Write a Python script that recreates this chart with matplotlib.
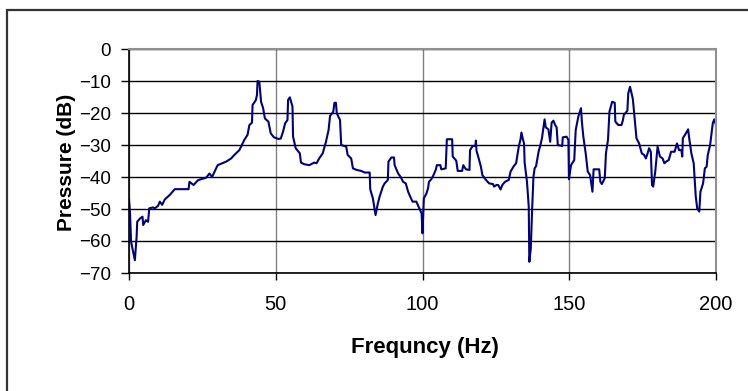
import numpy as np
import matplotlib
matplotlib.use('Agg')
import matplotlib.pyplot as plt
from matplotlib.patches import Rectangle

plt.rcParams['font.family'] = ['Liberation Sans', 'DejaVu Sans']

# frequency response (Hz, dB)
freq = [0, 0.35, 0.7, 2.0, 2.6, 2.8, 3.7, 4.6, 4.85, 5.75, 6.5, 6.9, 8.2, 8.8, 9.9,
        10.5, 11.3, 12.2, 13.9, 15.6, 20.3, 20.6, 22.0, 23.5, 26.3, 27.4, 28.3, 30.2,
        33.1, 34.8, 35.9, 37.6, 39.3, 40.4, 41.0, 41.9, 42.1, 43.2, 43.6, 43.8, 44.4,
        45.0, 45.7, 46.3, 47.5, 48.3, 49.4, 50.9,
        51.7, 52.5, 53.2, 54.0, 54.2, 54.8, 55.7, 55.9, 56.8, 58.2, 58.6, 59.7, 61.4,
        63.1, 63.9, 64.8, 66.0, 67.1, 68.0, 68.5, 69.6, 70.0, 70.5, 70.8, 71.9, 72.3,
        74.0, 74.5, 75.7, 76.3, 77.6, 79.1, 80.3, 82.0, 82.2, 83.1, 84.0, 84.8, 85.4,
        86.5, 87.1, 88.2, 88.4, 89.4, 90.3, 90.5, 91.7, 92.5, 93.4, 94.3, 95.1, 95.7,
        96.6, 97.9, 98.9, 99.7, 100.0,
        100.45, 101.35, 101.9, 102.2, 103.0, 103.6, 104.5, 104.9, 106.1, 106.4, 107.9,
        108.3, 110.1, 110.3, 111.5, 112.0, 113.5, 113.9, 114.8, 116.0, 116.2, 117.1,
        118.0, 118.2, 118.4, 119.3, 119.9, 120.4, 121.6, 122.7, 124.0, 124.4, 125.2,
        125.8, 126.6, 127.2, 128.1, 129.4, 130.0, 131.1, 131.9, 132.8, 133.4, 133.7,
        134.2, 134.6, 134.8, 135.6, 136.2, 136.4, 136.9, 137.3, 137.8, 138.2, 138.7,
        139.6, 140.1, 140.7, 141.6, 142.0, 142.9, 143.5, 144.0, 144.6, 145.2, 145.7,
        146.1, 147.6, 147.8, 149.1, 149.7, 149.9,
        150.6, 151.7, 152.2, 153.1, 154.0, 154.3, 154.8, 155.6, 156.3, 157.1, 157.9,
        158.3, 160.2, 160.6, 161.1, 162.1, 162.5, 163.2, 163.7, 164.6, 165.5, 165.7,
        166.7, 167.8, 168.3, 168.6, 169.8, 170.1, 170.7, 171.5, 171.7, 172.4, 172.9,
        173.8, 174.7, 175.5, 176.1, 176.7, 177.2, 177.8, 178.2, 178.6, 179.3, 180.1,
        180.9, 181.8, 182.4, 183.0, 183.9, 184.7, 185.9, 186.7, 187.4, 188.2, 188.5,
        188.7, 189.7, 190.5, 190.8, 191.6, 192.4, 193.1, 193.6, 194.3, 194.7, 195.6,
        196.2, 196.8, 197.2, 198.0, 198.9, 199.4, 200.0, 200.0]

pressure = [-47, -51.3, -60.2, -66, -58.6, -54, -53, -52.4, -55, -53.5, -54, -49.8, -49.5,
            -49.8, -49, -47.7, -48.7, -47, -45.6, -43.8, -43.8, -41.5, -42.5, -41, -40.2,
            -38.9, -40, -36.3, -35.2, -34.2, -33.1, -31.6, -28.4, -26.8, -23.8, -23,
            -17.5, -16.0, -14.4, -10, -10.2, -16.5, -18.5, -21.7, -22.7, -26.4, -27.6,
            -28.1,
            -28, -25.8, -23.2, -22.2, -15.9, -15.1, -18, -27.4, -31, -32.6, -35.5, -36,
            -36.3, -35.5, -35.7, -34.2, -32.6, -29, -25.3, -20.9, -19.6, -16.8, -16.8,
            -20.1, -22.2, -30, -30.5, -33.1, -34.2, -37.3, -37.8, -38.1, -38.6, -38.6,
            -43.9, -46.7, -51.9, -48.2, -46.1, -43, -42, -40.9, -35.2, -33.9, -33.9,
            -36.3, -38.9, -39.9, -41.5, -42, -44.6, -45.9, -47.7, -47.7, -49.8, -51.4,
            -57.6,
            -46.7, -45.1, -43.5, -41.5, -40.7, -39.7, -37.8, -36.3, -36.3, -37.6, -37.3,
            -28.2, -28.2, -33.6, -34.9, -38.1, -38.1, -36.3, -37.6, -37.8, -31.6, -30.3,
            -30.3, -28.6, -31.8, -34.7, -36.8, -39.4, -40.9, -42, -42.2, -43, -42.5,
            -42.5, -43.9, -42.5, -41.5, -40.9, -38.3, -36.6, -35.7, -30.5, -28.2, -26.1,
            -28.2, -29.5, -35.5, -41.5, -49.3, -66.5, -62.3, -51.4, -39.9, -37.3, -36.6,
            -31.9, -30.3, -27.9, -22, -24.5, -25.1, -29, -23, -22.4, -23.75, -24.5,
            -30, -30.3, -27.6, -27.4, -28.4, -40.7,
            -36.3, -34.7, -25.3, -21.1, -18.5, -22.7, -27.4, -32.6, -38.3, -39.4, -44.6,
            -37.6, -37.6, -41.5, -42.2, -40.4, -32.6, -28.4, -19.6, -16.5, -16.8, -22.7,
            -23.75, -23.75, -22.2, -20.6, -19.3, -13.9, -11.8, -14.9, -15.9, -22.7, -27.9,
            -29.5, -32.6, -33.1, -34.2, -32.6, -31, -32.1, -42.5, -43, -38.3, -30.5,
            -33.6, -34.2, -35.7, -35.2, -34.7, -32.1, -32.1, -29.5, -31.6, -31.6, -33.6,
            -27.9, -26.4, -25.1, -27.4, -32.6, -35.7, -46.1, -49.8, -50.8, -44.6, -42,
            -37.3, -36.8, -33.1, -30, -23.2, -22, -23.75, -30]

xticks = [0, 50, 100, 150, 200]
yticks = [0, -10, -20, -30, -40, -50, -60, -70]

fig = plt.figure(figsize=(7.48, 3.91), dpi=100)
ax = fig.add_axes([129 / 748, 1 - 273 / 391, 587 / 748, 224 / 391])

ax.plot(freq, pressure, color='#000080', lw=1.5)

ax.set_xlim(0, 200)
ax.set_ylim(-70, 0)
ax.set_xticks(xticks)
ax.set_yticks(yticks)
ax.tick_params(axis='x', labelsize=14.5, length=5, pad=11, width=1)
ax.tick_params(axis='y', labelsize=13.5, length=6, pad=7, width=1)

ax.yaxis.grid(True, color='black', lw=1)
ax.xaxis.grid(True, color='#808080', lw=1)
ax.set_axisbelow(True)
for s in ['top', 'right']:
    ax.spines[s].set_color('#909090')
    ax.spines[s].set_linewidth(1.5)
for s in ['left', 'bottom']:
    ax.spines[s].set_color('black')
    ax.spines[s].set_linewidth(1.2)

fig.text(425 / 748, 1 - 347 / 391, 'Frequncy (Hz)', ha='center', va='center',
         fontsize=16, fontweight='bold')
fig.text(67 / 748, 1 - 162 / 391, 'Pressure (dB)', ha='center', va='center',
         rotation=90, fontsize=15, fontweight='bold')

# outer chart frame, runs off the right and bottom edges
fig.patches.append(Rectangle((7 / 748, -0.1), 1.2, 1.1 - 9.5 / 391,
                             transform=fig.transFigure, fill=False,
                             edgecolor='#333333', lw=1.6))

fig.savefig('out.png', dpi=100)
